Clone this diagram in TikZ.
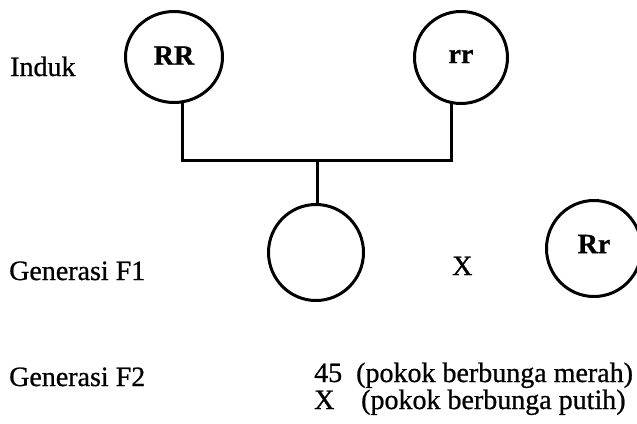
\documentclass[tikz,border=0pt]{standalone}
\usepackage{fontspec}
\setmainfont{Liberation Serif}
\newfontfamily\scanfont{Liberation Serif}[FakeBold=0.8]
\usetikzlibrary{shapes.geometric}
\begin{document}
\begin{tikzpicture}[x=1pt,y=-1pt,
  lab/.style={anchor=base west,inner sep=0pt,font=\scanfont\fontsize{28}{30}\selectfont},
  gene/.style={draw,ellipse,line width=3pt,inner sep=0pt,
    font=\scanfont\fontsize{28}{30}\selectfont\bfseries},
  conn/.style={line width=3pt,line join=miter,line cap=butt}]
\useasboundingbox (0,0) rectangle (637,423);
% row labels
\node[lab] (induk) at (10,76) {Induk};
\node[lab] (genf1) at (9,280) {Generasi F1};
\node[lab] (genf2) at (9,386) {Generasi F2};
% circles
\node[gene,minimum width=97pt,minimum height=91pt,text depth=3pt] (RR) at (174,57) {RR};
\node[gene,minimum width=93pt,minimum height=92pt,text depth=2pt] (rr) at (461,57.5) {rr};
\node[gene,minimum width=95pt,minimum height=96pt] (F1) at (316,252.5) {};
\node[gene,minimum width=95pt,minimum height=96pt,text depth=9pt] (Rr) at (594,248.5) {Rr};
\node[lab] (cross) at (452,275) {X};
% connectors
\coordinate (hl) at (0,160);
\draw[conn] (RR.-80) |- (hl -| rr.-102) -- (rr.-102);
\draw[conn] (F1.88 |- hl) -- (F1.88);
% F2 results
\node[lab] (n45) at (314,382) {45};
\node[lab] (t45) at (356,382) {(pokok berbunga merah)};
\node[lab] (nX) at (314,409) {X};
\node[lab] (tX) at (361,409) {(pokok berbunga putih)};
\end{tikzpicture}
\end{document}
